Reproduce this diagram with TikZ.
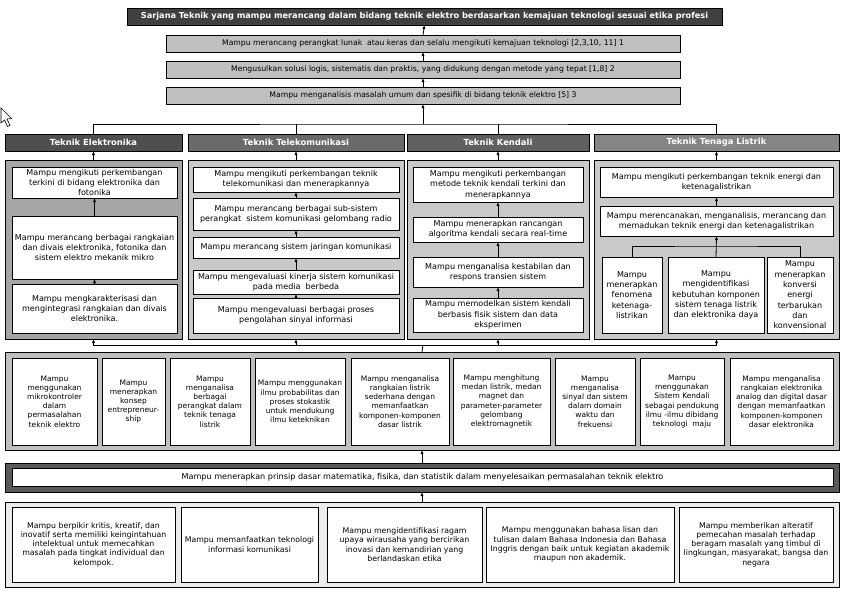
\documentclass[tikz,border=0pt]{standalone}
\usepackage{fontspec}
\setmainfont{DejaVu Sans}
\usetikzlibrary{arrows.meta}
\newcommand{\fs}[2]{\fontsize{#1}{#2}\selectfont}
\newcommand{\bx}[7]{%
  \pgfmathsetmacro{\bxw}{#4-#2}%
  \pgfmathsetmacro{\bxh}{#5-#3}%
  \pgfmathsetmacro{\bxcx}{(#2+#4)/2}%
  \pgfmathsetmacro{\bxcy}{(#3+#5)/2}%
  \node[box, #6, minimum width=\bxw pt, minimum height=\bxh pt] (#1) at (\bxcx,\bxcy) {#7};}
\begin{document}
\begin{tikzpicture}[x=1pt,y=-1pt,
  box/.style={draw=black, line width=0.8pt, inner sep=0pt, outer sep=0pt, align=center, anchor=center},
  wbox/.style={fill=white, font=\fs{8.05}{10.3}},
  mbox/.style={fill=white, font=\fs{7.5}{9.2}},
  qbox/.style={fill=white, font=\fs{7.8}{9.3}},
  gbox/.style={fill=gray75, font=\fs{7.7}{9}},
  hdr/.style={text=white, font=\bfseries\fs{8.4}{10}},
  arr/.style={-{Latex[length=4pt,width=3.2pt]}, line width=0.8pt},
  ln/.style={line width=0.8pt}]
\definecolor{gray75}{HTML}{BFBFBF}
\definecolor{titlec}{HTML}{404040}
\definecolor{hEc}{HTML}{4F4F4F}
\definecolor{hTc}{HTML}{6A6A6A}
\definecolor{hKc}{HTML}{606060}
\definecolor{hLc}{HTML}{858585}
\definecolor{pEc}{HTML}{A6A6A6}
\definecolor{pLt}{HTML}{C9C9C9}
\definecolor{mathc}{HTML}{5A5A5A}
\definecolor{botc}{HTML}{ECECEC}
\useasboundingbox[fill=white] (0,0) rectangle (850,595);

% top chain
\bx{title}{127}{8}{722}{25}{fill=titlec, text=white, font=\bfseries\fs{8.2}{9}}{Sarjana Teknik yang mampu merancang dalam bidang teknik elektro berdasarkan kemajuan teknologi sesuai etika profesi}
\bx{b1}{166}{35}{680}{52}{gbox}{Mampu merancang perangkat lunak \ atau keras dan selalu mengikuti kemajuan teknologi [2,3,10, 11] 1}
\bx{b2}{166}{61}{680}{78}{gbox}{Mengusulkan solusi logis, sistematis dan praktis, yang didukung dengan metode yang tepat [1,8] 2}
\bx{b3}{166}{87}{680}{104}{gbox}{Mampu menganalisis masalah umum dan spesifik di bidang teknik elektro [5] 3}
\draw[arr] (b3.north) -- (b2.south);
\draw[arr] (b2.north) -- (b1.south);
\draw[arr] (b1.north) -- (title.south);

% headers
\bx{hE}{5}{134}{182}{151}{hdr, fill=hEc}{Teknik Elektronika}
\bx{hT}{188}{134}{404}{151}{hdr, fill=hTc}{Teknik Telekomunikasi}
\bx{hK}{407}{134}{589}{151}{hdr, fill=hKc}{Teknik Kendali}
\bx{hL}{594}{134}{839}{151}{hdr, fill=hLc}{Teknik Tenaga Listrik}
\coordinate (topbus) at (423,124);
\draw[arr] (topbus) -- (b3.south);
\draw[ln] (hE.north) |- (topbus) -| (hL.north);
\draw[ln] (hT.north) -- (hT.north |- topbus);
\draw[ln] (hK.north) -- (hK.north |- topbus);

% panels
\bx{pE}{5}{160}{182}{339}{fill=pEc}{}
\bx{pT}{188}{160}{404}{339}{fill=pLt}{}
\bx{pK}{407}{160}{589}{339}{fill=pLt}{}
\bx{pL}{594}{160}{839}{339}{fill=pLt}{}
\draw[arr] (pE.north) -- (hE.south);
\draw[arr] (pT.north) -- (hT.south);
\draw[arr] (pK.north) -- (hK.south);
\draw[arr] (pL.north) -- (hL.south);

% Elektronika
\bx{e1}{12}{167}{177}{198}{wbox}{Mampu mengikuti perkembangan\\terkini di bidang elektronika dan\\fotonika}
\bx{e2}{12}{216}{177}{279}{wbox}{Mampu merancang berbagai rangkaian\\dan divais elektronika, fotonika dan\\sistem elektro mekanik mikro}
\bx{e3}{12}{284}{177}{333}{wbox}{Mampu mengkarakterisasi dan\\mengintegrasi rangkaian dan divais\\elektronika.}
\draw[arr] (e3.north) -- (e2.south);
\draw[arr] (e2.north) -- (e1.south);

% Telekomunikasi
\bx{t1}{193}{167}{399}{192}{wbox}{Mampu mengikuti perkembangan teknik\\telekomunikasi dan menerapkannya}
\bx{t2}{193}{198}{399}{230}{wbox}{Mampu merancang berbagai sub-sistem\\perangkat \ sistem komunikasi gelombang radio}
\bx{t3}{193}{237}{399}{258}{wbox}{Mampu merancang sistem jaringan komunikasi}
\bx{t4}{193}{270}{399}{294}{wbox}{Mampu mengevaluasi kinerja sistem komunikasi\\pada media \ berbeda}
\bx{t5}{193}{298}{399}{333}{wbox}{Mampu mengevaluasi berbagai proses\\pengolahan sinyal informasi}
\draw[arr] (t5.north) -- (t4.south);
\draw[arr] (t4.north) -- (t3.south);
\draw[arr] (t3.north) -- (t2.south);
\draw[arr] (t2.north) -- (t1.south);

% Kendali
\bx{k1}{413}{167}{583}{202}{wbox}{Mampu mengikuti perkembangan\\metode teknik kendali terkini dan\\menerapkannya}
\bx{k2}{413}{217}{583}{242}{wbox}{Mampu menerapkan rancangan\\algoritma kendali secara real-time}
\bx{k3}{413}{257}{583}{287}{wbox}{Mampu menganalisa kestabilan dan\\respons transien sistem}
\bx{k4}{413}{298}{583}{332}{wbox}{Mampu memodelkan sistem kendali\\berbasis fisik sistem dan data\\eksperimen}
\draw[arr] (k4.north) -- (k3.south);
\draw[arr] (k3.north) -- (k2.south);
\draw[arr] (k2.north) -- (k1.south);

% Tenaga Listrik
\bx{l1}{600}{167}{833}{197}{wbox}{Mampu mengikuti perkembangan teknik energi dan\\ketenagalistrikan}
\bx{l2}{600}{206}{833}{236}{wbox}{Mampu merencanakan, menganalisis, merancang dan\\memadukan teknik energi dan ketenagalistrikan}
\bx{lA}{602}{257}{662}{333}{wbox}{Mampu\\menerapkan\\fenomena\\ketenaga-\\listrikan}
\bx{lB}{668}{257}{764}{333}{wbox}{Mampu\\mengidentifikasi\\kebutuhan komponen\\sistem tenaga listrik\\dan elektronika daya}
\bx{lC}{767}{257}{833}{333}{wbox}{Mampu\\menerapkan\\konversi\\energi\\terbarukan\\dan\\konvensional}
\draw[arr] (l2.north) -- (l1.south);
\coordinate (lbus) at (716,246);
\draw[ln] (lA.north) |- (lbus) -| (lC.north);
\draw[arr] (lB.north) -- (l2.south);

% middle row
\bx{mid}{5}{352}{839}{450}{fill=gray75}{}
\coordinate (midbus) at (423,345);
\draw[ln] (mid.north) -- (midbus);
\draw[arr] (midbus) -| (pE.south);
\draw[arr] (midbus) -| (pL.south);
\draw[arr] (pT.south |- midbus) -- (pT.south);
\draw[arr] (pK.south |- midbus) -- (pK.south);
\bx{m1}{12}{358}{97}{445}{mbox}{Mampu\\menggunakan\\mikrokontroler\\dalam\\permasalahan\\teknik elektro}
\bx{m2}{102}{358}{165}{445}{mbox}{Mampu\\menerapkan\\konsep\\entrepreneur-\\ship}
\bx{m3}{170}{358}{250}{445}{mbox}{Mampu\\menganalisa\\berbagai\\perangkat dalam\\teknik tenaga\\listrik}
\bx{m4}{255}{358}{345}{445}{mbox}{Mampu menggunakan\\ilmu probabilitas dan\\proses stokastik\\untuk mendukung\\ilmu keteknikan}
\bx{m5}{351}{358}{449}{445}{mbox}{Mampu menganalisa\\rangkaian listrik\\sederhana dengan\\memanfaatkan\\komponen-komponen\\dasar listrik}
\bx{m6}{453}{358}{550}{445}{mbox}{Mampu menghitung\\medan listrik, medan\\magnet dan\\parameter-parameter\\gelombang\\elektromagnetik}
\bx{m7}{555}{358}{635}{445}{mbox}{Mampu\\menganalisa\\sinyal dan sistem\\dalam domain\\waktu dan\\frekuensi}
\bx{m8}{640}{358}{724}{445}{mbox}{Mampu\\menggunakan\\Sistem Kendali\\sebagai pendukung\\ilmu -ilmu dibidang\\teknologi \ maju}
\bx{m9}{730}{358}{833}{445}{mbox}{Mampu menganalisa\\rangkaian elektronika\\analog dan digital dasar\\dengan memanfaatkan\\komponen-komponen\\dasar elektronika}

% math row
\bx{math}{5}{463}{839}{492}{fill=mathc}{}
\bx{mathin}{12}{468}{833}{486}{fill=white, font=\fs{8.1}{9}}{Mampu menerapkan prinsip dasar matematika, fisika, dan statistik dalam menyelesaikan permasalahan teknik elektro}
\draw[arr] (math.north) -- (mid.south);

% bottom row
\bx{bot}{5}{502}{839}{587}{fill=botc}{}
\draw[arr] (bot.north) -- (math.south);
\bx{q1}{12}{507}{175}{582}{qbox}{Mampu berpikir kritis, kreatif, dan\\inovatif serta memiliki keingintahuan\\intelektual untuk memecahkan\\masalah pada tingkat individual dan\\kelompok.}
\bx{q2}{181}{507}{318}{582}{qbox}{Mampu memanfaatkan teknologi\\informasi komunikasi}
\bx{q3}{327}{507}{482}{582}{qbox}{Mampu mengidentifikasi ragam\\upaya wirausaha yang bercirikan\\inovasi dan kemandirian yang\\berlandaskan etika}
\bx{q4}{486}{507}{674}{582}{qbox}{Mampu menggunakan bahasa lisan dan\\tulisan dalam Bahasa Indonesia dan Bahasa\\Inggris dengan baik untuk kegiatan akademik\\maupun non akademik.}
\bx{q5}{679}{507}{833}{582}{qbox}{Mampu memberikan alteratif\\pemecahan masalah terhadap\\beragam masalah yang timbul di\\lingkungan, masyarakat, bangsa dan\\negara}

% cursor
\draw[line width=0.6pt, fill=white] (1,108) -- (1,123) -- (4.5,120) -- (7.5,126.5) -- (10,125.3) -- (7,119) -- (11.5,118.5) -- cycle;
\end{tikzpicture}
\end{document}
